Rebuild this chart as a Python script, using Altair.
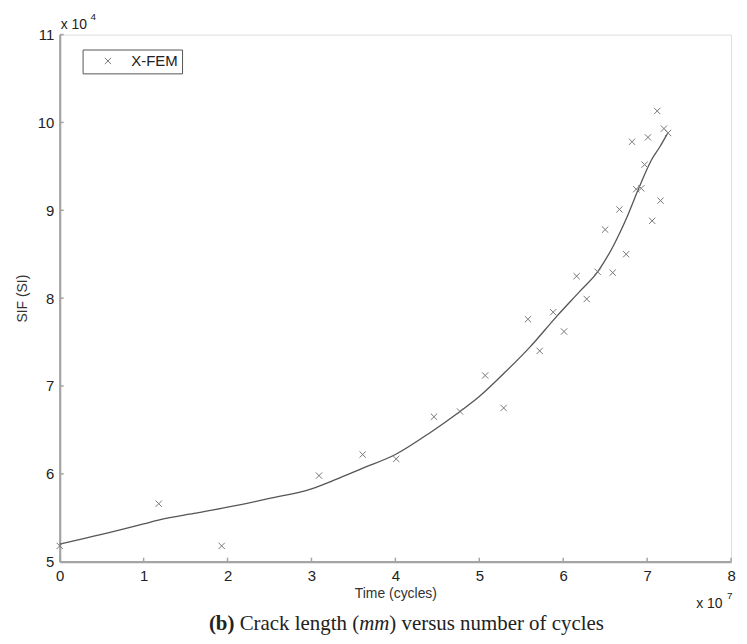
import altair as alt
import pandas as pd

# ---- data (x in units of 1e7 cycles, y in units of 1e4) ----
pts_x = [0.0, 1.18, 1.93, 3.09, 3.61, 4.01, 4.46, 4.77, 5.07, 5.29, 5.58, 5.72, 5.88,
         6.01, 6.16, 6.28, 6.41, 6.50, 6.59, 6.67, 6.75, 6.82, 6.87, 6.93, 6.97, 7.01,
         7.06, 7.12, 7.16, 7.20, 7.25]
pts_y = [5.18, 5.66, 5.18, 5.98, 6.22, 6.17, 6.65, 6.71, 7.12, 6.75, 7.76, 7.40, 7.84,
         7.62, 8.25, 7.99, 8.30, 8.78, 8.29, 9.01, 8.50, 9.78, 9.24, 9.25, 9.52, 9.83,
         8.88, 10.13, 9.11, 9.93, 9.88]
curve_x = [0.0, 0.5, 1.0, 1.2, 1.6, 2.0, 2.5, 3.0, 3.3, 3.6, 4.0, 4.4, 4.77, 5.0, 5.3,
           5.6, 5.92, 6.2, 6.41, 6.6, 6.75, 6.9, 7.05, 7.15, 7.24]
curve_y = [5.20, 5.31, 5.43, 5.48, 5.55, 5.62, 5.72, 5.83, 5.94, 6.06, 6.22, 6.46, 6.71,
           6.88, 7.15, 7.44, 7.79, 8.08, 8.30, 8.60, 8.90, 9.25, 9.57, 9.72, 9.87]
x_ticks = [0, 1, 2, 3, 4, 5, 6, 7, 8]
y_ticks = [5, 6, 7, 8, 9, 10, 11]
series_name = ["X-FEM"]
x_title = "Time (cycles)"
y_title = "SIF (SI)"
exp_base = ["x 10"]
exp_y = ["4"]
exp_x = ["7"]
caption_parts = ["(b)", "Crack length (", "mm", ") versus number of cycles"]

W, H = 675, 530
SANS = "Liberation Sans"
SERIF = "Liberation Serif"
AXIS_GRAY = "#a4a4a4"
CROSS = "M-1,-1L1,1M-1,1L1,-1"

pts = pd.DataFrame({"t": pts_x, "sif": pts_y, "series": series_name * len(pts_x)})
curve = pd.DataFrame({"t": curve_x, "sif": curve_y})
xt = pd.DataFrame({"t": x_ticks})
yt = pd.DataFrame({"sif": y_ticks})

xs = alt.Scale(domain=[0, 8], nice=False, zero=False)
ys = alt.Scale(domain=[5, 11], nice=False, zero=False)

xaxis = alt.Axis(values=x_ticks, format="d", tickSize=0, labelPadding=7, labelFlush=False,
                 domainColor=AXIS_GRAY, domainWidth=2.2, grid=False,
                 labelFont=SANS, labelFontSize=15, labelColor="#222",
                 title=x_title, titleFont=SANS, titleFontSize=14, titleFontWeight="normal",
                 titleColor="#333", titlePadding=3)
yaxis = alt.Axis(values=y_ticks, format="d", tickSize=0, labelPadding=6, labelFlush=False,
                 domainColor=AXIS_GRAY, domainWidth=2.2, grid=False,
                 labelFont=SANS, labelFontSize=15, labelColor="#222",
                 title=y_title, titleFont=SANS, titleFontSize=14, titleFontWeight="normal",
                 titleColor="#333", titlePadding=8)

base_line = alt.Chart(curve).mark_line(color="#555", strokeWidth=1.3, interpolate="monotone").encode(
    x=alt.X("t:Q", scale=xs, axis=xaxis),
    y=alt.Y("sif:Q", scale=ys, axis=yaxis),
)

points = alt.Chart(pts).mark_point(shape=CROSS, filled=False, size=40, strokeWidth=1, opacity=1).encode(
    x=alt.X("t:Q", scale=xs),
    y=alt.Y("sif:Q", scale=ys),
    color=alt.Color("series:N", scale=alt.Scale(range=["#777"]),
                    legend=alt.Legend(title=None, orient="none", legendX=23, legendY=15,
                                      strokeColor="#555", fillColor="white", padding=4,
                                      symbolType=CROSS, symbolSize=40, symbolStrokeWidth=1,
                                      symbolOffset=14, labelOffset=16,
                                      labelFont=SANS, labelFontSize=15, labelColor="#222")),
)

xtick_marks = alt.Chart(xt).mark_rule(color=AXIS_GRAY, strokeWidth=1.5).encode(
    x=alt.X("t:Q", scale=xs), y=alt.value(H), y2=alt.value(H - 4))
ytick_marks = alt.Chart(yt).mark_rule(color=AXIS_GRAY, strokeWidth=1.5).encode(
    y=alt.Y("sif:Q", scale=ys), x=alt.value(0), x2=alt.value(4))

def txt(s, x, y, size, font=SANS, weight="normal", style="normal", align="left"):
    return alt.Chart(pd.DataFrame({"s": [s]})).mark_text(
        font=font, fontSize=size, fontWeight=weight, fontStyle=style, align=align,
        baseline="middle", color="#222").encode(text="s:N", x=alt.value(x), y=alt.value(y))

exp_layers = [
    txt(exp_base[0], 1, -10, 14),
    txt(exp_y[0], 31, -18, 10),
    txt(exp_base[0], 640, 573, 14),
    txt(exp_x[0], 671, 564, 10),
]

cap_y = 593
cap_size = 21
cap_x0 = 150
sp = 5.25
w_b, w_crack, w_mm = 25.7, 120.2, 30.3
cap_layers = [
    txt(caption_parts[0], cap_x0, cap_y, cap_size, SERIF, weight="bold"),
    txt(caption_parts[1], cap_x0 + w_b + sp, cap_y, cap_size, SERIF),
    txt(caption_parts[2], cap_x0 + w_b + sp + w_crack, cap_y, cap_size, SERIF, style="italic"),
    txt(caption_parts[3], cap_x0 + w_b + sp + w_crack + w_mm, cap_y, cap_size, SERIF),
]

chart = alt.layer(base_line, points, xtick_marks, ytick_marks, *exp_layers, *cap_layers).properties(
    width=W, height=H,
    autosize=alt.AutoSizeParams(type="none"),
    padding={"left": 52, "top": 25, "right": 8, "bottom": 78},
).configure_view(stroke=None).configure(background="white")

chart.save("out.html", embed_options={"renderer": "svg", "actions": False})
